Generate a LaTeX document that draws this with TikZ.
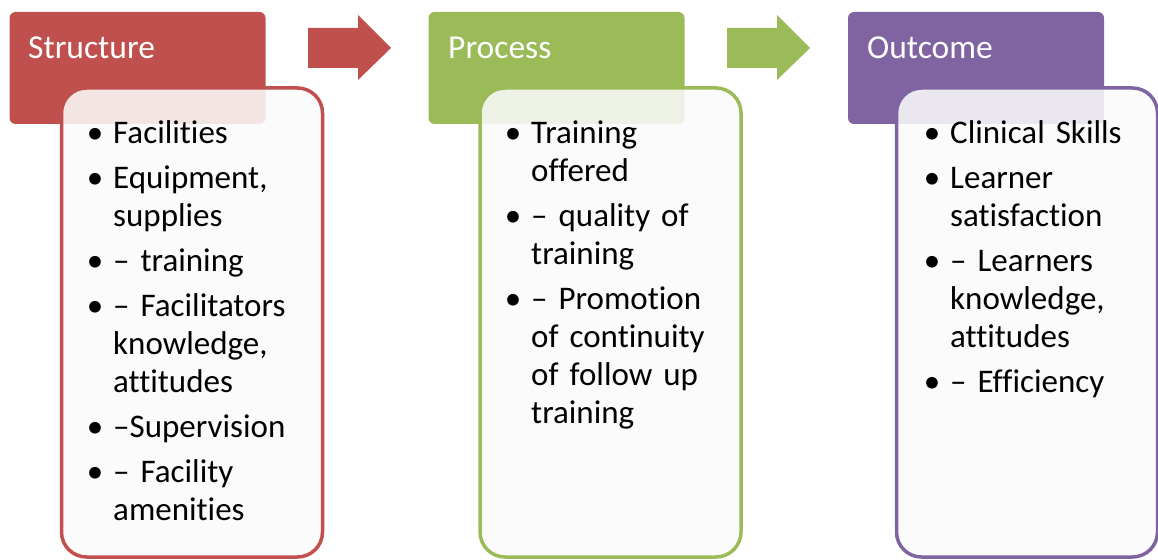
\documentclass[tikz,border=0pt]{standalone}
\usepackage{fontspec}
\setmainfont{Carlito}[Ligatures=NoCommon]
\usepackage{tikz}
\definecolor{structRed}{RGB}{192,80,77}
\definecolor{procGreen}{RGB}{155,187,89}
\definecolor{outPurple}{RGB}{128,100,162}
\newcommand\bulletmark{\leavevmode\llap{•\hspace{10pt}}}

\begin{document}
\begin{tikzpicture}[x=1pt,y=-1pt,
    head/.style={fill=#1,rounded corners=6pt,minimum width=256pt,minimum height=112pt,inner sep=0pt},
    headtext/.style={text=white,font=\fontsize{33.5}{38}\selectfont,anchor=base west,inner sep=0pt},
    body/.style={draw=#1,line width=3.5pt,fill=white!98!black,fill opacity=0.88,rounded corners=25pt,minimum width=261pt,minimum height=469pt,inner sep=0pt},
    items/.style={font=\fontsize{33}{38}\selectfont,text width=220pt,align=left,anchor=base west,inner sep=0pt}]
            \useasboundingbox (0,0) rectangle (1158,559);
            \node[head=structRed] (sHead) at (137.5,68) {};
            \node[head=procGreen] (pHead) at (556.5,68) {};
            \node[head=outPurple] (oHead) at (976,68) {};
            \node[headtext] (sTitle) at (28,59) {Structure};
            \node[headtext] (pTitle) at (448,59) {Process};
            \node[headtext] (oTitle) at (867,59) {Outcome};
            \node[body=structRed] (sBody) at (192,322.5) {};
            \node[body=procGreen] (pBody) at (610.5,322.5) {};
            \node[body=outPurple] (oBody) at (1027,322.5) {};
            \fill[structRed] (308,28) -- (358,28) -- (358,15) -- (391,48) -- (358,80) -- (358,68) -- (308,68) -- cycle;
            \fill[procGreen] (727,28) -- (777,28) -- (777,15) -- (810,48) -- (777,80) -- (777,68) -- (727,68) -- cycle;
            \node[items] (sList) at (113,143) {\bulletmark Facilities\\[7pt]
              \bulletmark Equipment,\\supplies\\[7pt]
              \bulletmark – training\\[7pt]
              \bulletmark – Facilitators\\knowledge,\\attitudes\\[7pt]
              \bulletmark –Supervision\\[7pt]
              \bulletmark – Facility\\amenities};
            \node[items] (pList) at (531,143) {\bulletmark Training\\offered\\[7pt]
              \bulletmark – quality of\\training\\[7pt]
              \bulletmark – Promotion\\of continuity\\of follow up\\training};
            \node[items] (oList) at (950,143) {\bulletmark Clinical Skills\\[7pt]
              \bulletmark Learner\\satisfaction\\[7pt]
              \bulletmark – Learners\\knowledge,\\attitudes\\[7pt]
              \bulletmark – Efficiency};
\end{tikzpicture}
\end{document}
